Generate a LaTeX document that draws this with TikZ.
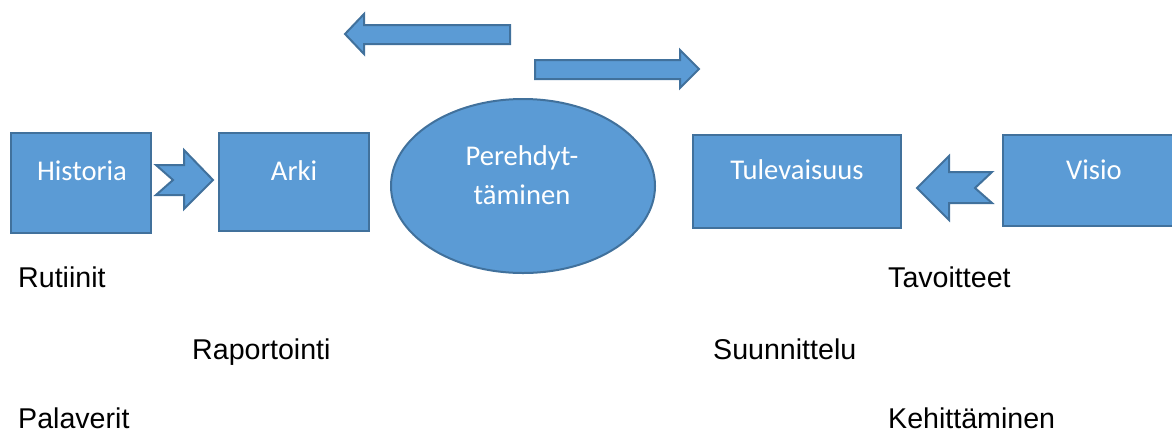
\documentclass[tikz,border=0pt]{standalone}
\usepackage{fontspec}
\usetikzlibrary{shapes.geometric}
\setmainfont{Liberation Sans}
\newfontfamily\shapefont{Carlito}
\definecolor{officeblue}{HTML}{5B9BD5}
\definecolor{officeedge}{HTML}{41719C}
\begin{document}
\begin{tikzpicture}[x=1pt,y=-1pt,
  shape style/.style={fill=officeblue,draw=officeedge,line width=2pt,line join=miter},
  box/.style={shape style,rectangle,inner sep=0pt},
  boxtext/.style={text=white,inner sep=0pt,anchor=base,
    font=\shapefont\fontsize{28.6}{34}\selectfont},
  note/.style={inner sep=0pt,anchor=base west,font=\fontsize{28.6}{34}\selectfont}]
\useasboundingbox (0,0) rectangle (1172,432);
\clip (0,0) rectangle (1172,432);

% Boxes
\node[box,minimum width=140pt,minimum height=100pt] (hist) at (81,183) {};
\node[box,minimum width=150pt,minimum height=98pt] (arki) at (294,182) {};
\node[box,minimum width=208pt,minimum height=93pt] (tul) at (797,181.5) {};
\node[box,minimum width=182pt,minimum height=91pt] (visio) at (1094,180.5) {};
\node[shape style,ellipse,minimum width=264pt,minimum height=174pt,inner sep=0pt] (pere) at (523,186) {};

% Labels inside the shapes
\node[boxtext] (histT) at (82,180) {Historia};
\node[boxtext] (arkiT) at (294,180) {Arki};
\node[boxtext] (tulT) at (797,179) {Tulevaisuus};
\node[boxtext] (visioT) at (1094,179) {Visio};
\node[boxtext] (pereA) at (522,165) {Perehdyt-};
\node[boxtext] (pereB) at (522,204) {täminen};

% Block arrows over the ellipse
\draw[shape style] (510,25) -- (364,25) -- (364,14) -- (345,34) -- (364,54) -- (364,44) -- (510,44) -- cycle;
\draw[shape style] (535,60) -- (680,60) -- (680,50) -- (699,69) -- (680,88) -- (680,79) -- (535,79) -- cycle;

% Notched arrows between the boxes
\draw[shape style] (156,165) -- (184,165) -- (184,150) -- (213,180) -- (184,209) -- (184,195) -- (156,195) -- (173,180) -- cycle;
\draw[shape style] (992,172) -- (949,172) -- (949,156) -- (917,188) -- (949,220) -- (949,203) -- (992,203) -- (975,188) -- cycle;

% Keywords below
\node[note] (rut) at (18,287) {Rutiinit};
\node[note] (rap) at (192,359) {Raportointi};
\node[note] (pal) at (18,428) {Palaverit};
\node[note] (tav) at (888,287) {Tavoitteet};
\node[note] (suu) at (713,359) {Suunnittelu};
\node[note] (keh) at (888,428) {Kehittäminen};
\end{tikzpicture}
\end{document}
